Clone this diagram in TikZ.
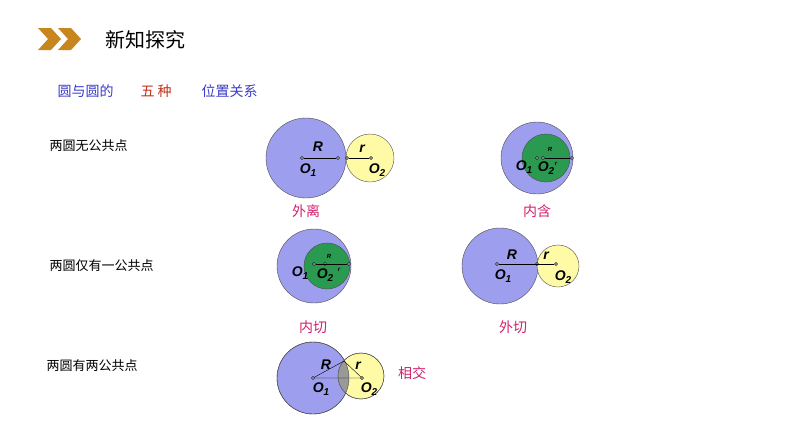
\documentclass[tikz,border=0pt]{standalone}
\usepackage{fontspec}
\setmainfont{Liberation Sans}
\newfontfamily\cjk{Noto Sans CJK SC}
\newcommand{\sbi}[1]{\raisebox{-0.35ex}{\fontsize{10}{10}\selectfont #1}}
\begin{document}
\begin{tikzpicture}[x=1pt,y=-1pt,
 yel/.style={fill=yellow!35,draw=black!70,line width=0.4pt},
 grn/.style={fill=cg,draw=black!70,line width=0.4pt},
 dot/.style={circle,draw=black,fill=white,inner sep=0pt,minimum size=3pt},
 lbl/.style={font=\bfseries\itshape\fontsize{14}{14}\selectfont,inner sep=0pt},
 tiny/.style={font=\bfseries\itshape\fontsize{6}{6}\selectfont,inner sep=0pt},
 poslbl/.style={font=\cjk\fontsize{14}{14}\selectfont,text=cm},
 rowlbl/.style={font=\cjk\fontsize{13}{13}\selectfont,anchor=west}]
\useasboundingbox (0,0) rectangle (794,447);
\definecolor{gold}{HTML}{C8861E}
\definecolor{cb}{HTML}{3A3AC8}
\definecolor{cr}{HTML}{C0301A}
\definecolor{cv}{HTML}{9E9EEE}
\definecolor{cg}{HTML}{2A9A50}
\definecolor{cm}{HTML}{D0206A}
\tikzset{big/.style={fill=cv,draw=black!70,line width=0.4pt}}
\fill[gold] (38,28)--(51,28)--(61,39)--(51,50)--(38,50)--(48,39)--cycle;
\fill[gold] (58,28)--(71,28)--(81,39)--(71,50)--(58,50)--(68,39)--cycle;
\node[font=\cjk\fontsize{20}{20}\selectfont,anchor=west] (t) at (102,40) {新知探究};
\node[font=\cjk\fontsize{14}{14}\selectfont,anchor=west,text=cb] (s1) at (54,91) {圆与圆的};
\node[font=\cjk\fontsize{14}{14}\selectfont,anchor=west,text=cr] (s2) at (137,91) {五\ 种};
\node[font=\cjk\fontsize{14}{14}\selectfont,anchor=west,text=cb] (s3) at (198,91) {位置关系};
\node[rowlbl] (r1) at (46,146) {两圆无公共点};
\node[rowlbl] (r2) at (46,266) {两圆仅有一公共点};
\node[rowlbl] (r3) at (43,366) {两圆有两公共点};
% 外离
\draw[big] (306,158) circle (40);
\draw[yel] (370,158) circle (24);
\node[dot] (a1) at (302,158) {};
\node[dot] (a2) at (338,158) {};
\node[dot] (a3) at (347,158) {};
\node[dot] (a4) at (371,158) {};
\draw (a1)--(a2) (a3)--(a4);
\node[lbl] at (318,147) {R};
\node[lbl] at (362,149) {r};
\node[lbl] at (308,170) {O\sbi{1}};
\node[lbl] at (377,170) {O\sbi{2}};
\node[poslbl] at (306,211) {外离};
% 内含
\draw[big] (537,158) circle (36);
\draw[grn] (546,158) circle (24);
\node[dot] (b1) at (537,158) {};
\node[dot] (b2) at (543,158) {};
\node[dot] (b3) at (572,158) {};
\draw (b2)--(b3);
\node[tiny] at (550,149) {R};
\node[tiny] at (556,164) {r};
\node[lbl] at (524,167) {O\sbi{1}};
\node[lbl] at (546,168) {O\sbi{2}};
\node[poslbl] at (537,211) {内含};
% 内切
\draw[big] (314,266) circle (37);
\draw[grn] (327,266) circle (23);
\node[dot] (c1) at (314,264) {};
\node[dot] (c2) at (325,264) {};
\node[dot] (c3) at (349,264) {};
\draw (c1)--(c3);
\node[tiny] at (329,256) {R};
\node[tiny] at (339,270) {r};
\node[lbl] at (300,273) {O\sbi{1}};
\node[lbl] at (325,275) {O\sbi{2}};
\node[poslbl] at (313,327) {内切};
% 外切
\draw[big] (500,266) circle (38);
\draw[yel] (558,266) circle (21);
\node[dot] (d1) at (497,264) {};
\node[dot] (d2) at (537,264) {};
\node[dot] (d3) at (556,264) {};
\draw (d1)--(d3);
\node[lbl] at (512,255) {R};
\node[lbl] at (546,256) {r};
\node[lbl] at (503,276) {O\sbi{1}};
\node[lbl] at (563,277) {O\sbi{2}};
\node[poslbl] at (513,327) {外切};
% 相交
\draw[big] (313,378) circle (36);
\draw[yel] (361,376) circle (23);
\begin{scope}
\clip (313,378) circle (36);
\fill[gray!80] (361,376) circle (23);
\end{scope}
\draw[black!70,line width=0.4pt] (313,378) circle (36);
\draw[black!70,line width=0.4pt] (361,376) circle (23);
\node[dot] (e1) at (313,378) {};
\node[dot] (e2) at (362,378) {};
\coordinate (e3) at (344,361);
\draw (e1)--(e2) (e1)--(e3)--(e2);
\node[lbl] at (326,365) {R};
\node[lbl] at (358,366) {r};
\node[lbl] at (321,389) {O\sbi{1}};
\node[lbl] at (369,389) {O\sbi{2}};
\node[poslbl] at (412,373) {相交};
\end{tikzpicture}
\end{document}
